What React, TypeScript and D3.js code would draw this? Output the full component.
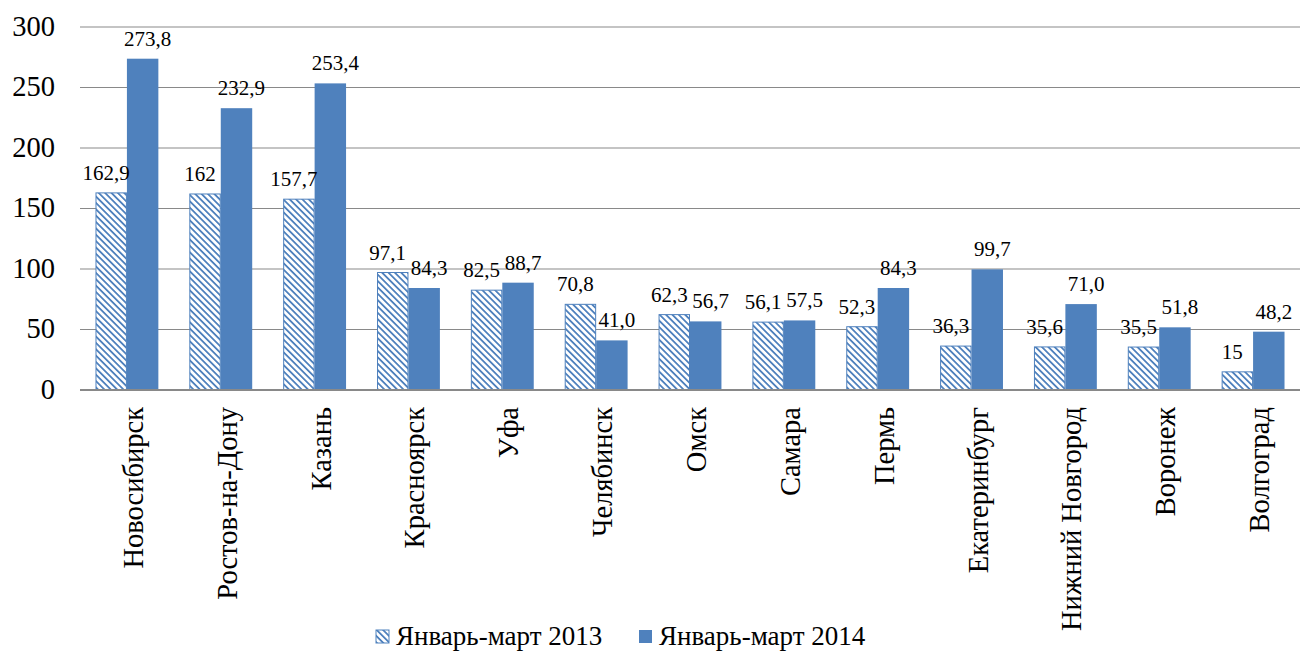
import React, { useEffect, useRef } from "react";
import * as d3 from "d3";

const cities = ["Новосибирск", "Ростов-на-Дону", "Казань", "Красноярск", "Уфа", "Челябинск", "Омск", "Самара", "Пермь", "Екатеринбург", "Нижний Новгород", "Воронеж", "Волгоград"];
const values2013 = [162.9, 162, 157.7, 97.1, 82.5, 70.8, 62.3, 56.1, 52.3, 36.3, 35.6, 35.5, 15];
const values2014 = [273.8, 232.9, 253.4, 84.3, 88.7, 41.0, 56.7, 57.5, 84.3, 99.7, 71.0, 51.8, 48.2];
const labels2013 = ["162,9", "162", "157,7", "97,1", "82,5", "70,8", "62,3", "56,1", "52,3", "36,3", "35,6", "35,5", "15"];
const labels2014 = ["273,8", "232,9", "253,4", "84,3", "88,7", "41,0", "56,7", "57,5", "84,3", "99,7", "71,0", "51,8", "48,2"];
const yTicks = [0, 50, 100, 150, 200, 250, 300];
const seriesNames = ["Январь-март 2013", "Январь-март 2014"];

const BLUE = "#4F81BD";
const FONT = "Liberation Serif, Times New Roman, serif";

export default function App() {
  const svgRef = useRef<SVGSVGElement | null>(null);

  useEffect(() => {
    const left = 80, right = 1300, top = 27, bottom = 390;
    const svg = d3.select(svgRef.current);
    svg.selectAll("*").remove();

    const defs = svg.append("defs");
    const pat = defs.append("pattern")
      .attr("id", "hatch")
      .attr("patternUnits", "userSpaceOnUse")
      .attr("width", 4.5)
      .attr("height", 4.5)
      .attr("patternTransform", "rotate(-45)");
    pat.append("rect").attr("width", 4.5).attr("height", 4.5).attr("fill", "#fff");
    pat.append("rect").attr("x", 0).attr("y", 0).attr("width", 1.8).attr("height", 4.5).attr("fill", BLUE);

    const x = d3.scaleBand<string>()
      .domain(cities)
      .range([left, right])
      .paddingInner(0.33)
      .paddingOuter(0.165);
    const xs = d3.scaleBand<string>()
      .domain(["a", "b"])
      .range([0, x.bandwidth()]);
    const y = d3.scaleLinear().domain([0, 300]).range([bottom, top]);

    // gridlines
    svg.append("g")
      .selectAll("line")
      .data(yTicks.filter(t => t > 0))
      .enter()
      .append("line")
      .attr("x1", left)
      .attr("x2", right)
      .attr("y1", d => y(d))
      .attr("y2", d => y(d))
      .attr("stroke", "#898989")
      .attr("stroke-width", 1.2);

    // y labels
    svg.append("g")
      .selectAll("text")
      .data(yTicks)
      .enter()
      .append("text")
      .attr("x", 55)
      .attr("y", d => y(d) - 1)
      .attr("dy", "0.35em")
      .attr("text-anchor", "end")
      .style("font-family", FONT)
      .style("font-size", "28.5px")
      .text(d => d);

    // bars 2013
    svg.append("g")
      .selectAll("rect")
      .data(values2013)
      .enter()
      .append("rect")
      .attr("x", (d, i) => x(cities[i])! + xs("a")! + 0.5)
      .attr("y", d => y(d))
      .attr("width", xs.bandwidth() - 1)
      .attr("height", d => bottom - y(d))
      .attr("fill", "url(#hatch)")
      .attr("stroke", BLUE)
      .attr("stroke-width", 1);

    // bars 2014
    svg.append("g")
      .selectAll("rect")
      .data(values2014)
      .enter()
      .append("rect")
      .attr("x", (d, i) => x(cities[i])! + xs("b")!)
      .attr("y", d => y(d))
      .attr("width", xs.bandwidth())
      .attr("height", d => bottom - y(d))
      .attr("fill", BLUE);

    // axis line
    svg.append("line")
      .attr("x1", left)
      .attr("x2", right)
      .attr("y1", bottom)
      .attr("y2", bottom)
      .attr("stroke", "#898989")
      .attr("stroke-width", 2);

    // value labels, nudged apart so neighbours do not collide
    const addLabels = (vals: number[], labels: string[], key: string, shift: number) => {
      svg.append("g")
        .selectAll("text")
        .data(vals)
        .enter()
        .append("text")
        .attr("x", (d, i) => x(cities[i])! + xs(key)! + xs.bandwidth() / 2 + shift)
        .attr("y", d => y(d) - 13)
        .attr("text-anchor", "middle")
        .style("font-family", FONT)
        .style("font-size", "21px")
        .text((d, i) => labels[i]);
    };
    addLabels(values2013, labels2013, "a", -5);
    addLabels(values2014, labels2014, "b", 5);

    // category labels
    svg.append("g")
      .selectAll("text")
      .data(cities)
      .enter()
      .append("text")
      .attr("transform", d => `translate(${x(d)! + x.bandwidth() / 2 + 6},${bottom + 17}) rotate(-90)`)
      .attr("dy", "0.35em")
      .attr("text-anchor", "end")
      .style("font-family", FONT)
      .style("font-size", "28.5px")
      .text(d => d);

    // legend
    const legend = svg.append("g");
    const items = [
      { name: seriesNames[0], fill: "url(#hatch)", x: 376 },
      { name: seriesNames[1], fill: BLUE, x: 639 },
    ];
    items.forEach(it => {
      legend.append("rect")
        .attr("x", it.x)
        .attr("y", 630)
        .attr("width", 13)
        .attr("height", 13)
        .attr("fill", it.fill)
        .attr("stroke", it.fill === BLUE ? "none" : BLUE);
      legend.append("text")
        .attr("x", it.x + 20)
        .attr("y", 645)
        .style("font-family", FONT)
        .style("font-size", "27px")
        .text(it.name);
    });
  }, []);

  return (
    <svg ref={svgRef} width={1302} height={653}
      style={{ position: "absolute", left: 0, top: 0, background: "#fff" }} />
  );
}
